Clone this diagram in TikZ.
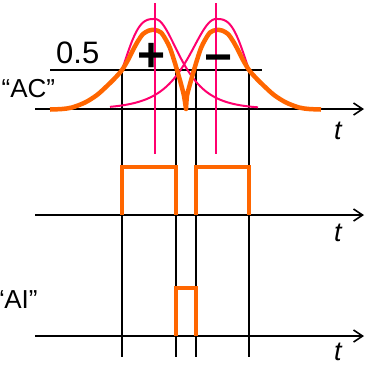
\documentclass[tikz,border=0pt]{standalone}
\usepackage{fontspec}
\setmainfont{Liberation Sans}
\usetikzlibrary{arrows.meta}
\definecolor{pinkc}{RGB}{255,0,110}
\definecolor{orangec}{RGB}{255,102,0}
\begin{document}
\begin{tikzpicture}[x=1pt,y=-1pt,
  axisline/.style={line width=1.8pt,-{Straight Barb[length=9pt,width=12pt,line width=1.6pt]}},
  guide/.style={line width=1.5pt},
  pinkline/.style={pinkc,line width=2pt},
  orangeline/.style={orangec,line width=4.5pt,line join=round},
  pulse/.style={orangec,line width=4pt,line join=miter},
  lbl/.style={inner sep=0pt,font=\fontsize{26}{28}\selectfont},
  tlbl/.style={inner sep=0pt,font=\fontsize{27}{28}\selectfont\itshape},
  sign/.style={inner sep=0pt,font=\fontsize{48}{50}\selectfont\bfseries}]
\useasboundingbox (0,0) rectangle (366,365);
% axes
\coordinate (a1s) at (35,109); \coordinate (a1e) at (364,109);
\coordinate (a2s) at (35,215); \coordinate (a2e) at (364,215);
\coordinate (a3s) at (35,336); \coordinate (a3e) at (364,336);
\draw[axisline] (a1s) -- (a1e);
\draw[axisline] (a2s) -- (a2e);
\draw[axisline] (a3s) -- (a3e);
% threshold line
\coordinate (h0) at (50,70); \coordinate (h1) at (262,70);
\draw[line width=1.8pt] (h0) -- (h1);
% vertical guides
\foreach \gx/\gn in {122/g1,176/g2,196/g3,249/g4}{
  \coordinate (\gn t) at (\gx,70); \coordinate (\gn b) at (\gx,357);
  \draw[guide] (\gn t) -- (\gn b);
}
% pink pulses
\draw[pinkline] plot[domain=121:155,samples=30] (\x,{109-90*exp(-((155-\x)/35)*((155-\x)/35)*((155-\x)/35))})
  -- plot[domain=155:258,samples=60] (\x,{109-180/(exp((\x-155)/22)+exp(-(\x-155)/22))});
\draw[pinkline] plot[domain=110:216,samples=60] (\x,{109-180/(exp((\x-216)/24)+exp(-(\x-216)/24))})
  -- plot[domain=216:250,samples=30] (\x,{109-90*exp(-((\x-216)/35)*((\x-216)/35)*((\x-216)/35))});
% orange AC signal
\draw[orangeline] plot[smooth] coordinates {(50,109.5) (62,109) (72,107.5) (85,102.5) (97,95) (108,85) (116,77) (122,70) (128,60) (133,50) (138,41) (143,34) (149,30.5) (155,30) (161,32.5) (166,40) (170,48) (174,60) (177,70) (181,84) (184,96) (186,109)}
  -- plot[smooth] coordinates {(186,109) (187,96) (190,84) (194,70) (197,60) (201,48) (205,40) (210,32.5) (216,30) (222,30.5) (228,34) (233,41) (238,50) (243,60) (249,70) (255,77) (263,85) (274,95) (286,102.5) (299,107.5) (309,109) (321,109.5)};
% AC square pulses
\draw[pulse] (g1b |- a2s) -- (122,167) -- (176,167) -- (g2b |- a2s);
\draw[pulse] (g3b |- a2s) -- (196,167) -- (249,167) -- (g4b |- a2s);
% AI pulse
\draw[pulse,line width=3.4pt] (g2b |- a3s) -- (176,288) -- (196,288) -- (g3b |- a3s);
% pink centre lines
\coordinate (c1t) at (155,3); \coordinate (c1b) at (155,154);
\coordinate (c2t) at (216,3); \coordinate (c2b) at (216,154);
\draw[pinkline] (c1t) -- (c1b);
\draw[pinkline] (c2t) -- (c2b);
% labels
\node[inner sep=0pt,anchor=base west,font=\fontsize{31}{32}\selectfont] (half) at (56,63) {0.5};
\node[lbl,anchor=base west] (ac) at (1.5,97) {“AC”};
\node[lbl,anchor=base west] (ai) at (-4.5,308) {“AI”};
\node[tlbl,anchor=base west] (t1) at (334,139) {t};
\node[tlbl,anchor=base west] (t2) at (334,241) {t};
\node[tlbl,anchor=base west] (t3) at (334,360) {t};
\node[sign] (plus) at (152,57) {+};
\node[sign] (minus) at (219,64) {−};
\end{tikzpicture}
\end{document}
